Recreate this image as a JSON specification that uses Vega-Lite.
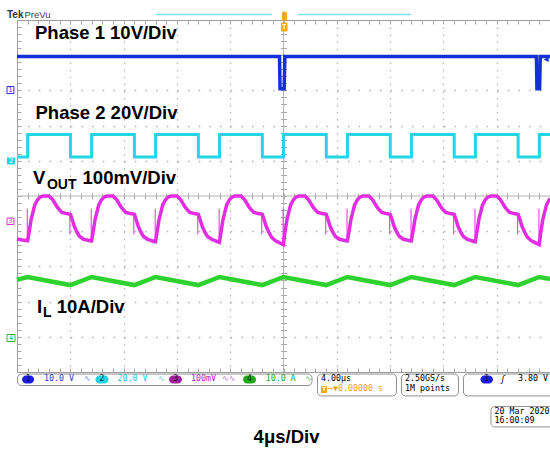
{
  "$schema": "https://vega.github.io/schema/vega-lite/v6.json",
  "width": 533,
  "height": 352,
  "autosize": "none",
  "padding": {"left": 17, "top": 20, "right": 0, "bottom": 78},
  "background": "white",
  "data": {"values": [{}]},
  "config": {
    "view": {"stroke": "#9c9c9c", "strokeWidth": 1},
    "axis": {"title": null, "labels": false, "domain": false, "grid": false, "ticks": false, "tickColor": "#a8a8a8", "tickWidth": 1, "gridColor": "#b4b4b4"}
  },
  "resolve": {"axis": {"x": "independent", "y": "independent"}},
  "datasets": {
    "ch1": [{"t":-20,"v":3.96},{"t":-0.3,"v":3.96},{"t":-0.26,"v":3.05},{"t":0.05,"v":3.05},{"t":0.1,"v":3.96},{"t":18.98,"v":3.96},{"t":19.02,"v":3.05},{"t":19.22,"v":3.05},{"t":19.27,"v":3.96},{"t":20,"v":3.96}],
    "ch2": [{"t":-20,"v":1.11},{"t":-19.2,"v":1.11},{"t":-19.2,"v":1.75},{"t":-15.99,"v":1.75},{"t":-15.99,"v":1.11},{"t":-14.4,"v":1.11},{"t":-14.4,"v":1.75},{"t":-11.19,"v":1.75},{"t":-11.19,"v":1.11},{"t":-9.6,"v":1.11},{"t":-9.6,"v":1.75},{"t":-6.39,"v":1.75},{"t":-6.39,"v":1.11},{"t":-4.8,"v":1.11},{"t":-4.8,"v":1.75},{"t":-1.59,"v":1.75},{"t":-1.59,"v":1.11},{"t":0,"v":1.11},{"t":0,"v":1.75},{"t":3.21,"v":1.75},{"t":3.21,"v":1.11},{"t":4.8,"v":1.11},{"t":4.8,"v":1.75},{"t":8.01,"v":1.75},{"t":8.01,"v":1.11},{"t":9.6,"v":1.11},{"t":9.6,"v":1.75},{"t":12.81,"v":1.75},{"t":12.81,"v":1.11},{"t":14.4,"v":1.11},{"t":14.4,"v":1.75},{"t":17.61,"v":1.75},{"t":17.61,"v":1.11},{"t":19.2,"v":1.11},{"t":19.2,"v":1.75},{"t":20,"v":1.75}],
    "ch3": [{"t":-20,"v":-1.22},{"t":-19.6,"v":-1.25},
      {"t":-19.2,"v":-1.27},{"t":-19.1,"v":-1.05},{"t":-18.94,"v":-0.67},{"t":-18.67,"v":-0.26},{"t":-18.45,"v":-0.1},{"t":-18.25,"v":-0.03},{"t":-18.05,"v":0},{"t":-17.6,"v":0},{"t":-17.35,"v":-0.09},{"t":-16.95,"v":-0.33},{"t":-16.65,"v":-0.46},{"t":-16.3,"v":-0.5},{"t":-15.99,"v":-0.52},{"t":-15.9,"v":-0.62},{"t":-15.7,"v":-0.86},{"t":-15.5,"v":-1.03},{"t":-15.3,"v":-1.15},{"t":-15.0,"v":-1.23},{"t":-14.41,"v":-1.28},
      {"t":-14.4,"v":-1.27},{"t":-14.3,"v":-1.05},{"t":-14.14,"v":-0.67},{"t":-13.87,"v":-0.26},{"t":-13.65,"v":-0.1},{"t":-13.45,"v":-0.03},{"t":-13.25,"v":0},{"t":-12.8,"v":0},{"t":-12.55,"v":-0.09},{"t":-12.15,"v":-0.33},{"t":-11.85,"v":-0.46},{"t":-11.5,"v":-0.5},{"t":-11.19,"v":-0.52},{"t":-11.1,"v":-0.62},{"t":-10.9,"v":-0.86},{"t":-10.7,"v":-1.03},{"t":-10.5,"v":-1.15},{"t":-10.2,"v":-1.23},{"t":-9.61,"v":-1.3},
      {"t":-9.6,"v":-1.29},{"t":-9.5,"v":-1.05},{"t":-9.34,"v":-0.67},{"t":-9.07,"v":-0.26},{"t":-8.85,"v":-0.1},{"t":-8.65,"v":-0.03},{"t":-8.45,"v":0},{"t":-8.0,"v":0},{"t":-7.75,"v":-0.09},{"t":-7.35,"v":-0.33},{"t":-7.05,"v":-0.46},{"t":-6.7,"v":-0.5},{"t":-6.39,"v":-0.52},{"t":-6.3,"v":-0.62},{"t":-6.1,"v":-0.86},{"t":-5.9,"v":-1.03},{"t":-5.7,"v":-1.15},{"t":-5.4,"v":-1.23},{"t":-4.81,"v":-1.32},
      {"t":-4.8,"v":-1.31},{"t":-4.7,"v":-1.05},{"t":-4.54,"v":-0.67},{"t":-4.27,"v":-0.26},{"t":-4.05,"v":-0.1},{"t":-3.85,"v":-0.03},{"t":-3.65,"v":0},{"t":-3.2,"v":0},{"t":-2.95,"v":-0.09},{"t":-2.55,"v":-0.33},{"t":-2.25,"v":-0.46},{"t":-1.9,"v":-0.5},{"t":-1.59,"v":-0.52},{"t":-1.5,"v":-0.62},{"t":-1.3,"v":-0.86},{"t":-1.1,"v":-1.03},{"t":-0.9,"v":-1.17},{"t":-0.6,"v":-1.27},{"t":-0.01,"v":-1.38},
      {"t":0,"v":-1.36},{"t":0.1,"v":-1.05},{"t":0.26,"v":-0.67},{"t":0.53,"v":-0.26},{"t":0.75,"v":-0.1},{"t":0.95,"v":-0.03},{"t":1.15,"v":0},{"t":1.6,"v":0},{"t":1.85,"v":-0.09},{"t":2.25,"v":-0.33},{"t":2.55,"v":-0.46},{"t":2.9,"v":-0.5},{"t":3.21,"v":-0.52},{"t":3.3,"v":-0.62},{"t":3.5,"v":-0.86},{"t":3.7,"v":-1.03},{"t":3.9,"v":-1.15},{"t":4.2,"v":-1.23},{"t":4.79,"v":-1.28},
      {"t":4.8,"v":-1.27},{"t":4.9,"v":-1.05},{"t":5.06,"v":-0.67},{"t":5.33,"v":-0.26},{"t":5.55,"v":-0.1},{"t":5.75,"v":-0.03},{"t":5.95,"v":0},{"t":6.4,"v":0},{"t":6.65,"v":-0.09},{"t":7.05,"v":-0.33},{"t":7.35,"v":-0.46},{"t":7.7,"v":-0.5},{"t":8.01,"v":-0.52},{"t":8.1,"v":-0.62},{"t":8.3,"v":-0.86},{"t":8.5,"v":-1.03},{"t":8.7,"v":-1.15},{"t":9.0,"v":-1.23},{"t":9.59,"v":-1.28},
      {"t":9.6,"v":-1.27},{"t":9.7,"v":-1.05},{"t":9.86,"v":-0.67},{"t":10.13,"v":-0.26},{"t":10.35,"v":-0.1},{"t":10.55,"v":-0.03},{"t":10.75,"v":0},{"t":11.2,"v":0},{"t":11.45,"v":-0.09},{"t":11.85,"v":-0.33},{"t":12.15,"v":-0.46},{"t":12.5,"v":-0.5},{"t":12.81,"v":-0.52},{"t":12.9,"v":-0.62},{"t":13.1,"v":-0.86},{"t":13.3,"v":-1.03},{"t":13.5,"v":-1.15},{"t":13.8,"v":-1.23},{"t":14.39,"v":-1.3},
      {"t":14.4,"v":-1.29},{"t":14.5,"v":-1.05},{"t":14.66,"v":-0.67},{"t":14.93,"v":-0.26},{"t":15.15,"v":-0.1},{"t":15.35,"v":-0.03},{"t":15.55,"v":0},{"t":16.0,"v":0},{"t":16.25,"v":-0.09},{"t":16.65,"v":-0.33},{"t":16.95,"v":-0.46},{"t":17.3,"v":-0.5},{"t":17.61,"v":-0.52},{"t":17.7,"v":-0.62},{"t":17.9,"v":-0.86},{"t":18.1,"v":-1.03},{"t":18.3,"v":-1.17},{"t":18.6,"v":-1.27},{"t":19.19,"v":-1.38},
      {"t":19.2,"v":-1.36},{"t":19.3,"v":-1.05},{"t":19.46,"v":-0.67},{"t":19.73,"v":-0.26},{"t":19.95,"v":-0.1},{"t":20,"v":-0.08}],
    "ch4": [{"t":-20,"v":-2.38},{"t":-19.2,"v":-2.3},{"t":-15.99,"v":-2.53},{"t":-14.4,"v":-2.3},{"t":-11.19,"v":-2.53},{"t":-9.6,"v":-2.3},{"t":-6.39,"v":-2.53},{"t":-4.8,"v":-2.3},{"t":-1.59,"v":-2.53},{"t":0,"v":-2.3},{"t":3.21,"v":-2.53},{"t":4.8,"v":-2.3},{"t":8.01,"v":-2.53},{"t":9.6,"v":-2.3},{"t":12.81,"v":-2.53},{"t":14.4,"v":-2.3},{"t":17.61,"v":-2.53},{"t":19.2,"v":-2.3},{"t":20,"v":-2.36}],
    "spikes": [{"t":-19.23,"lo":-1.27,"hi":-0.36},{"t":-14.43,"lo":-1.27,"hi":-0.36},{"t":-9.63,"lo":-1.27,"hi":-0.36},{"t":-4.83,"lo":-1.3,"hi":-0.36},{"t":-0.03,"lo":-1.36,"hi":-0.36},{"t":4.77,"lo":-1.27,"hi":-0.36},{"t":9.57,"lo":-1.27,"hi":-0.36},{"t":14.37,"lo":-1.29,"hi":-0.36},{"t":19.17,"lo":-1.36,"hi":-0.36},
      {"t":-16.03,"lo":-1.09,"hi":-0.5},{"t":-11.23,"lo":-1.09,"hi":-0.5},{"t":-6.43,"lo":-1.09,"hi":-0.5},{"t":-1.63,"lo":-1.09,"hi":-0.5},{"t":3.17,"lo":-1.09,"hi":-0.5},{"t":7.97,"lo":-1.09,"hi":-0.5},{"t":12.77,"lo":-1.09,"hi":-0.5},{"t":17.57,"lo":-1.09,"hi":-0.5}]
  },
  "layer": [
    {"mark": {"type": "rule", "color": "#b4b4b4", "strokeWidth": 1}, "encoding": {"x": {"datum": 0, "type": "quantitative", "axis": null}}},
    {"mark": {"type": "rule", "color": "#b4b4b4", "strokeWidth": 1}, "encoding": {"y": {"datum": 0, "type": "quantitative", "axis": null}}},
    {
      "data": {"name": "ch2"},
      "mark": {"type": "line", "color": "#22d6e2", "strokeWidth": 3},
      "encoding": {
        "x": {"field": "t", "type": "quantitative", "scale": {"domain": [-20, 20], "nice": false, "zero": false},
          "axis": {"orient": "bottom", "offset": -179, "ticks": true, "tickSize": 6, "values": [-19.2,-18.4,-17.6,-16.8,-16,-15.2,-14.4,-13.6,-12.8,-12,-11.2,-10.4,-9.6,-8.8,-8,-7.2,-6.4,-5.6,-4.8,-4,-3.2,-2.4,-1.6,-0.8,0,0.8,1.6,2.4,3.2,4,4.8,5.6,6.4,7.2,8,8.8,9.6,10.4,11.2,12,12.8,13.6,14.4,15.2,16,16.8,17.6,18.4,19.2]}},
        "y": {"field": "v", "type": "quantitative", "scale": {"domain": [-5, 5], "nice": false, "zero": false},
          "axis": {"orient": "left", "offset": -269.5, "ticks": true, "tickSize": 6, "values": [-4.8,-4.6,-4.4,-4.2,-4,-3.8,-3.6,-3.4,-3.2,-3,-2.8,-2.6,-2.4,-2.2,-2,-1.8,-1.6,-1.4,-1.2,-1,-0.8,-0.6,-0.4,-0.2,0,0.2,0.4,0.6,0.8,1,1.2,1.4,1.6,1.8,2,2.2,2.4,2.6,2.8,3,3.2,3.4,3.6,3.8,4,4.2,4.4,4.6,4.8]}},
        "order": {"value": null}
      }
    },
    {
      "data": {"name": "ch1"},
      "mark": {"type": "line", "color": "#1430d8", "strokeWidth": 3.5},
      "encoding": {
        "x": {"field": "t", "type": "quantitative", "scale": {"domain": [-20, 20], "nice": false, "zero": false},
          "axis": {"orient": "bottom", "grid": true, "gridDash": [1.5, 5.54], "gridWidth": 1.3, "values": [-16,-12,-8,-4,4,8,12,16]}},
        "y": {"field": "v", "type": "quantitative", "scale": {"domain": [-5, 5], "nice": false, "zero": false},
          "axis": {"orient": "left", "grid": true, "gridDash": [1.5, 9.16], "gridWidth": 1.3, "values": [-4,-3,-2,-1,1,2,3,4]}},
        "order": {"value": null}
      }
    },
    {
      "data": {"name": "ch3"},
      "mark": {"type": "line", "color": "#e22ee2", "strokeWidth": 3.5},
      "encoding": {
        "x": {"field": "t", "type": "quantitative", "scale": {"domain": [-20, 20], "nice": false, "zero": false},
          "axis": {"orient": "top", "offset": -4, "ticks": true, "tickSize": 4, "values": [-19.2,-18.4,-17.6,-16.8,-16,-15.2,-14.4,-13.6,-12.8,-12,-11.2,-10.4,-9.6,-8.8,-8,-7.2,-6.4,-5.6,-4.8,-4,-3.2,-2.4,-1.6,-0.8,0,0.8,1.6,2.4,3.2,4,4.8,5.6,6.4,7.2,8,8.8,9.6,10.4,11.2,12,12.8,13.6,14.4,15.2,16,16.8,17.6,18.4,19.2]}},
        "y": {"field": "v", "type": "quantitative", "scale": {"domain": [-5, 5], "nice": false, "zero": false},
          "axis": {"orient": "left", "offset": -4, "ticks": true, "tickSize": 4, "values": [-4.8,-4.6,-4.4,-4.2,-4,-3.8,-3.6,-3.4,-3.2,-3,-2.8,-2.6,-2.4,-2.2,-2,-1.8,-1.6,-1.4,-1.2,-1,-0.8,-0.6,-0.4,-0.2,0,0.2,0.4,0.6,0.8,1,1.2,1.4,1.6,1.8,2,2.2,2.4,2.6,2.8,3,3.2,3.4,3.6,3.8,4,4.2,4.4,4.6,4.8]}}
      }
    },
    {
      "data": {"name": "spikes"},
      "mark": {"type": "rule", "color": "#e22ee2", "strokeWidth": 1},
      "encoding": {
        "x": {"field": "t", "type": "quantitative", "axis": null},
        "y": {"field": "lo", "type": "quantitative", "axis": null},
        "y2": {"field": "hi"}
      }
    },
    {
      "data": {"name": "ch4"},
      "mark": {"type": "line", "color": "#2ed22e", "strokeWidth": 4.5},
      "encoding": {
        "x": {"field": "t", "type": "quantitative", "scale": {"domain": [-20, 20], "nice": false, "zero": false},
          "axis": {"orient": "bottom", "offset": -4, "ticks": true, "tickSize": 4, "values": [-19.2,-18.4,-17.6,-16.8,-16,-15.2,-14.4,-13.6,-12.8,-12,-11.2,-10.4,-9.6,-8.8,-8,-7.2,-6.4,-5.6,-4.8,-4,-3.2,-2.4,-1.6,-0.8,0,0.8,1.6,2.4,3.2,4,4.8,5.6,6.4,7.2,8,8.8,9.6,10.4,11.2,12,12.8,13.6,14.4,15.2,16,16.8,17.6,18.4,19.2]}},
        "y": {"field": "v", "type": "quantitative", "scale": {"domain": [-5, 5], "nice": false, "zero": false}, "axis": null}
      }
    },
    {"mark": {"type": "text", "text": "Phase 1 10V/Div", "align": "left", "baseline": "alphabetic", "font": "Liberation Sans", "fontWeight": "bold", "fontSize": 18.5, "color": "#000000"},
     "encoding": {"x": {"datum": -18.65, "type": "quantitative", "axis": null}, "y": {"datum": 4.46, "type": "quantitative", "axis": null}}},
    {"mark": {"type": "text", "text": "Phase 2 20V/Div", "align": "left", "baseline": "alphabetic", "font": "Liberation Sans", "fontWeight": "bold", "fontSize": 18.5, "color": "#000000"},
     "encoding": {"x": {"datum": -18.61, "type": "quantitative", "axis": null}, "y": {"datum": 2.19, "type": "quantitative", "axis": null}}},
    {"mark": {"type": "text", "text": "V", "align": "left", "baseline": "alphabetic", "font": "Liberation Sans", "fontWeight": "bold", "fontSize": 18.5, "color": "#000000"},
     "encoding": {"x": {"datum": -18.8, "type": "quantitative", "axis": null}, "y": {"datum": 0.327, "type": "quantitative", "axis": null}}},
    {"mark": {"type": "text", "text": "OUT", "align": "left", "baseline": "alphabetic", "font": "Liberation Sans", "fontWeight": "bold", "fontSize": 14, "color": "#000000"},
     "encoding": {"x": {"datum": -17.75, "type": "quantitative", "axis": null}, "y": {"datum": 0.185, "type": "quantitative", "axis": null}}},
    {"mark": {"type": "text", "text": "100mV/Div", "align": "left", "baseline": "alphabetic", "font": "Liberation Sans", "fontWeight": "bold", "fontSize": 18.5, "color": "#000000"},
     "encoding": {"x": {"datum": -15.08, "type": "quantitative", "axis": null}, "y": {"datum": 0.327, "type": "quantitative", "axis": null}}},
    {"mark": {"type": "text", "text": "I", "align": "left", "baseline": "alphabetic", "font": "Liberation Sans", "fontWeight": "bold", "fontSize": 18.5, "color": "#000000"},
     "encoding": {"x": {"datum": -18.5, "type": "quantitative", "axis": null}, "y": {"datum": -3.318, "type": "quantitative", "axis": null}}},
    {"mark": {"type": "text", "text": "L", "align": "left", "baseline": "alphabetic", "font": "Liberation Sans", "fontWeight": "bold", "fontSize": 14, "color": "#000000"},
     "encoding": {"x": {"datum": -18.05, "type": "quantitative", "axis": null}, "y": {"datum": -3.45, "type": "quantitative", "axis": null}}},
    {"mark": {"type": "text", "text": "10A/Div", "align": "left", "baseline": "alphabetic", "font": "Liberation Sans", "fontWeight": "bold", "fontSize": 18.5, "color": "#000000"},
     "encoding": {"x": {"datum": -17.02, "type": "quantitative", "axis": null}, "y": {"datum": -3.318, "type": "quantitative", "axis": null}}},
    {"mark": {"type": "text", "text": "4μs/Div", "align": "center", "baseline": "alphabetic", "font": "Liberation Sans", "fontWeight": "bold", "fontSize": 18.5, "color": "#000000"},
     "encoding": {"x": {"datum": 0.225, "type": "quantitative", "axis": null}, "y": {"datum": -7.017, "type": "quantitative", "axis": null}}},
    {"mark": {"type": "text", "text": "Tek", "align": "left", "baseline": "alphabetic", "font": "Liberation Sans", "fontWeight": "bold", "fontSize": 10, "color": "#333333"},
     "encoding": {"x": {"datum": -20.75, "type": "quantitative", "axis": null}, "y": {"datum": 5.057, "type": "quantitative", "axis": null}}},
    {"mark": {"type": "text", "text": "PreVu", "align": "left", "baseline": "alphabetic", "font": "Liberation Sans", "fontSize": 9.5, "color": "#444444"},
     "encoding": {"x": {"datum": -19.44, "type": "quantitative", "axis": null}, "y": {"datum": 5.057, "type": "quantitative", "axis": null}}},
    {"mark": {"type": "rule", "color": "#78e2ea", "strokeWidth": 1.5},
     "encoding": {"x": {"datum": -9.57, "type": "quantitative", "axis": null}, "x2": {"datum": -0.86}, "y": {"datum": 5.156, "type": "quantitative", "axis": null}}},
    {"mark": {"type": "rule", "color": "#78e2ea", "strokeWidth": 1.5},
     "encoding": {"x": {"datum": 1.09, "type": "quantitative", "axis": null}, "x2": {"datum": 9.57}, "y": {"datum": 5.156, "type": "quantitative", "axis": null}}},
    {"mark": {"type": "rect", "fill": "#f5a623", "cornerRadius": 2},
     "encoding": {"x": {"datum": -0.11, "type": "quantitative", "axis": null}, "x2": {"datum": 0.26}, "y": {"datum": 5.24, "type": "quantitative", "axis": null}, "y2": {"datum": 4.97}}},
    {"mark": {"type": "rect", "fill": "#f5a623", "cornerRadius": 1},
     "encoding": {"x": {"datum": -0.19, "type": "quantitative", "axis": null}, "x2": {"datum": 0.3}, "y": {"datum": 4.93, "type": "quantitative", "axis": null}, "y2": {"datum": 4.67}}},
    {"mark": {"type": "text", "text": "T", "align": "center", "baseline": "middle", "font": "Liberation Sans", "fontWeight": "bold", "fontSize": 7, "color": "#ffffff"},
     "encoding": {"x": {"datum": 0.05, "type": "quantitative", "axis": null}, "y": {"datum": 4.8, "type": "quantitative", "axis": null}}},
    {"mark": {"type": "text", "text": "◂", "align": "center", "baseline": "middle", "font": "DejaVu Sans", "fontSize": 10, "color": "#1430d8"},
     "encoding": {"x": {"datum": 19.7, "type": "quantitative", "axis": null}, "y": {"datum": 3.88, "type": "quantitative", "axis": null}}},
    {"mark": {"type": "rect", "fill": "white", "stroke": "#3030e0", "strokeWidth": 1},
     "encoding": {"x": {"datum": -20.75, "type": "quantitative", "axis": null}, "x2": {"datum": -20.23}, "y": {"datum": 3.11, "type": "quantitative", "axis": null}, "y2": {"datum": 2.91}}},
    {"mark": {"type": "text", "text": "1", "align": "center", "baseline": "middle", "font": "DejaVu Sans", "fontSize": 6.5, "color": "#3030e0"},
     "encoding": {"x": {"datum": -20.49, "type": "quantitative", "axis": null}, "y": {"datum": 3.01, "type": "quantitative", "axis": null}}},
    {"mark": {"type": "rect", "fill": "#22d6e2", "strokeWidth": 0},
     "encoding": {"x": {"datum": -20.75, "type": "quantitative", "axis": null}, "x2": {"datum": -20.15}, "y": {"datum": 1.094, "type": "quantitative", "axis": null}, "y2": {"datum": 0.895}}},
    {"mark": {"type": "text", "text": "2", "align": "center", "baseline": "middle", "font": "DejaVu Sans", "fontSize": 6.5, "color": "#ffffff"},
     "encoding": {"x": {"datum": -20.45, "type": "quantitative", "axis": null}, "y": {"datum": 0.994, "type": "quantitative", "axis": null}}},
    {"mark": {"type": "rect", "fill": "white", "stroke": "#e22ee2", "strokeWidth": 1},
     "encoding": {"x": {"datum": -20.75, "type": "quantitative", "axis": null}, "x2": {"datum": -20.23}, "y": {"datum": -0.625, "type": "quantitative", "axis": null}, "y2": {"datum": -0.81}}},
    {"mark": {"type": "text", "text": "3", "align": "center", "baseline": "middle", "font": "DejaVu Sans", "fontSize": 6.5, "color": "#e22ee2"},
     "encoding": {"x": {"datum": -20.49, "type": "quantitative", "axis": null}, "y": {"datum": -0.716, "type": "quantitative", "axis": null}}},
    {"mark": {"type": "rect", "fill": "white", "stroke": "#2eb82e", "strokeWidth": 1},
     "encoding": {"x": {"datum": -20.75, "type": "quantitative", "axis": null}, "x2": {"datum": -20.15}, "y": {"datum": -3.935, "type": "quantitative", "axis": null}, "y2": {"datum": -4.134}}},
    {"mark": {"type": "text", "text": "4", "align": "center", "baseline": "middle", "font": "DejaVu Sans", "fontSize": 6.5, "color": "#2eb82e"},
     "encoding": {"x": {"datum": -20.45, "type": "quantitative", "axis": null}, "y": {"datum": -4.034, "type": "quantitative", "axis": null}}},
    {"mark": {"type": "rect", "fill": "white", "stroke": "#909090", "strokeWidth": 1, "cornerRadius": 4},
     "encoding": {"x": {"datum": -19.96, "type": "quantitative", "axis": null}, "x2": {"datum": 2.14}, "y": {"datum": -5.057, "type": "quantitative", "axis": null}, "y2": {"datum": -5.384}}},
    {"mark": {"type": "rect", "fill": "white", "stroke": "#909090", "strokeWidth": 1, "cornerRadius": 4},
     "encoding": {"x": {"datum": 2.55, "type": "quantitative", "axis": null}, "x2": {"datum": 8.48}, "y": {"datum": -5.057, "type": "quantitative", "axis": null}, "y2": {"datum": -5.68}}},
    {"mark": {"type": "rect", "fill": "white", "stroke": "#909090", "strokeWidth": 1, "cornerRadius": 4},
     "encoding": {"x": {"datum": 8.86, "type": "quantitative", "axis": null}, "x2": {"datum": 13.13}, "y": {"datum": -5.057, "type": "quantitative", "axis": null}, "y2": {"datum": -5.68}}},
    {"mark": {"type": "rect", "fill": "white", "stroke": "#909090", "strokeWidth": 1, "cornerRadius": 4},
     "encoding": {"x": {"datum": 13.51, "type": "quantitative", "axis": null}, "x2": {"datum": 20.45}, "y": {"datum": -5.057, "type": "quantitative", "axis": null}, "y2": {"datum": -5.68}}},
    {"mark": {"type": "rect", "fill": "white", "stroke": "#909090", "strokeWidth": 1, "cornerRadius": 4},
     "encoding": {"x": {"datum": 15.57, "type": "quantitative", "axis": null}, "x2": {"datum": 20.45}, "y": {"datum": -5.98, "type": "quantitative", "axis": null}, "y2": {"datum": -6.56}}},
    {"mark": {"type": "rect", "fill": "#1c1ce0", "cornerRadius": 4},
     "encoding": {"x": {"datum": -19.62, "type": "quantitative", "axis": null}, "x2": {"datum": -18.72}, "y": {"datum": -5.1, "type": "quantitative", "axis": null}, "y2": {"datum": -5.33}}},
    {"mark": {"type": "rect", "fill": "#22d0e0", "cornerRadius": 4},
     "encoding": {"x": {"datum": -14.11, "type": "quantitative", "axis": null}, "x2": {"datum": -13.13}, "y": {"datum": -5.1, "type": "quantitative", "axis": null}, "y2": {"datum": -5.33}}},
    {"mark": {"type": "rect", "fill": "#a020a0", "cornerRadius": 4},
     "encoding": {"x": {"datum": -8.59, "type": "quantitative", "axis": null}, "x2": {"datum": -7.62}, "y": {"datum": -5.1, "type": "quantitative", "axis": null}, "y2": {"datum": -5.33}}},
    {"mark": {"type": "rect", "fill": "#20a820", "cornerRadius": 4},
     "encoding": {"x": {"datum": -3.04, "type": "quantitative", "axis": null}, "x2": {"datum": -2.06}, "y": {"datum": -5.1, "type": "quantitative", "axis": null}, "y2": {"datum": -5.33}}},
    {"mark": {"type": "rect", "fill": "#1c1ce0", "cornerRadius": 4},
     "encoding": {"x": {"datum": 14.78, "type": "quantitative", "axis": null}, "x2": {"datum": 15.72}, "y": {"datum": -5.1, "type": "quantitative", "axis": null}, "y2": {"datum": -5.33}}},
    {"mark": {"type": "text", "text": "1", "align": "center", "baseline": "middle", "font": "DejaVu Sans Mono", "fontSize": 8, "color": "#0a0a40"},
     "encoding": {"x": {"datum": -19.17, "type": "quantitative", "axis": null}, "y": {"datum": -5.213, "type": "quantitative", "axis": null}}},
    {"mark": {"type": "text", "text": "2", "align": "center", "baseline": "middle", "font": "DejaVu Sans Mono", "fontSize": 8, "color": "#0a3040"},
     "encoding": {"x": {"datum": -13.62, "type": "quantitative", "axis": null}, "y": {"datum": -5.213, "type": "quantitative", "axis": null}}},
    {"mark": {"type": "text", "text": "3", "align": "center", "baseline": "middle", "font": "DejaVu Sans Mono", "fontSize": 8, "color": "#300a30"},
     "encoding": {"x": {"datum": -8.1, "type": "quantitative", "axis": null}, "y": {"datum": -5.213, "type": "quantitative", "axis": null}}},
    {"mark": {"type": "text", "text": "4", "align": "center", "baseline": "middle", "font": "DejaVu Sans Mono", "fontSize": 8, "color": "#0a300a"},
     "encoding": {"x": {"datum": -2.55, "type": "quantitative", "axis": null}, "y": {"datum": -5.213, "type": "quantitative", "axis": null}}},
    {"mark": {"type": "text", "text": "1", "align": "center", "baseline": "middle", "font": "DejaVu Sans Mono", "fontSize": 8, "color": "#0a0a40"},
     "encoding": {"x": {"datum": 15.25, "type": "quantitative", "axis": null}, "y": {"datum": -5.213, "type": "quantitative", "axis": null}}},
    {"mark": {"type": "text", "text": "10.0 V", "align": "left", "baseline": "middle", "font": "DejaVu Sans Mono", "fontSize": 8.3, "color": "#3434e8"},
     "encoding": {"x": {"datum": -17.98, "type": "quantitative", "axis": null}, "y": {"datum": -5.213, "type": "quantitative", "axis": null}}},
    {"mark": {"type": "text", "text": "∿", "align": "left", "baseline": "middle", "font": "DejaVu Sans", "fontSize": 8, "color": "#6a80f0"},
     "encoding": {"x": {"datum": -14.97, "type": "quantitative", "axis": null}, "y": {"datum": -5.213, "type": "quantitative", "axis": null}}},
    {"mark": {"type": "text", "text": "20.0 V", "align": "left", "baseline": "middle", "font": "DejaVu Sans Mono", "fontSize": 8.3, "color": "#22c8e0"},
     "encoding": {"x": {"datum": -12.46, "type": "quantitative", "axis": null}, "y": {"datum": -5.213, "type": "quantitative", "axis": null}}},
    {"mark": {"type": "text", "text": "∿", "align": "left", "baseline": "middle", "font": "DejaVu Sans", "fontSize": 8, "color": "#50c8e0"},
     "encoding": {"x": {"datum": -9.42, "type": "quantitative", "axis": null}, "y": {"datum": -5.213, "type": "quantitative", "axis": null}}},
    {"mark": {"type": "text", "text": "100mV", "align": "left", "baseline": "middle", "font": "DejaVu Sans Mono", "fontSize": 8.3, "color": "#b024c0"},
     "encoding": {"x": {"datum": -6.94, "type": "quantitative", "axis": null}, "y": {"datum": -5.213, "type": "quantitative", "axis": null}}},
    {"mark": {"type": "text", "text": "∿∿", "align": "left", "baseline": "middle", "font": "DejaVu Sans", "fontSize": 8, "color": "#c060d0"},
     "encoding": {"x": {"datum": -4.62, "type": "quantitative", "axis": null}, "y": {"datum": -5.213, "type": "quantitative", "axis": null}}},
    {"mark": {"type": "text", "text": "10.0 A", "align": "left", "baseline": "middle", "font": "DejaVu Sans Mono", "fontSize": 8.3, "color": "#20a820"},
     "encoding": {"x": {"datum": -1.34, "type": "quantitative", "axis": null}, "y": {"datum": -5.213, "type": "quantitative", "axis": null}}},
    {"mark": {"type": "text", "text": "∿", "align": "left", "baseline": "middle", "font": "DejaVu Sans", "fontSize": 8, "color": "#60c060"},
     "encoding": {"x": {"datum": 1.61, "type": "quantitative", "axis": null}, "y": {"datum": -5.213, "type": "quantitative", "axis": null}}},
    {"mark": {"type": "text", "text": "4.00μs", "align": "left", "baseline": "middle", "font": "DejaVu Sans Mono", "fontSize": 8.3, "color": "#000000"},
     "encoding": {"x": {"datum": 2.81, "type": "quantitative", "axis": null}, "y": {"datum": -5.213, "type": "quantitative", "axis": null}}},
    {"mark": {"type": "rect", "fill": "#f0a020", "cornerRadius": 1},
     "encoding": {"x": {"datum": 2.81, "type": "quantitative", "axis": null}, "x2": {"datum": 3.26}, "y": {"datum": -5.398, "type": "quantitative", "axis": null}, "y2": {"datum": -5.597}}},
    {"mark": {"type": "text", "text": "T", "align": "center", "baseline": "middle", "font": "DejaVu Sans", "fontWeight": "bold", "fontSize": 6, "color": "#ffffff"},
     "encoding": {"x": {"datum": 3.035, "type": "quantitative", "axis": null}, "y": {"datum": -5.497, "type": "quantitative", "axis": null}}},
    {"mark": {"type": "text", "text": "→▼0.00000 s", "align": "left", "baseline": "middle", "font": "DejaVu Sans Mono", "fontSize": 8.3, "color": "#f0a020"},
     "encoding": {"x": {"datum": 3.34, "type": "quantitative", "axis": null}, "y": {"datum": -5.497, "type": "quantitative", "axis": null}}},
    {"mark": {"type": "text", "text": "2.50GS/s", "align": "left", "baseline": "middle", "font": "DejaVu Sans Mono", "fontSize": 8.3, "color": "#000000"},
     "encoding": {"x": {"datum": 9.12, "type": "quantitative", "axis": null}, "y": {"datum": -5.213, "type": "quantitative", "axis": null}}},
    {"mark": {"type": "text", "text": "1M points", "align": "left", "baseline": "middle", "font": "DejaVu Sans Mono", "fontSize": 8.3, "color": "#000000"},
     "encoding": {"x": {"datum": 9.12, "type": "quantitative", "axis": null}, "y": {"datum": -5.497, "type": "quantitative", "axis": null}}},
    {"mark": {"type": "text", "text": "ʃ", "align": "center", "baseline": "middle", "font": "DejaVu Sans", "fontStyle": "italic", "fontSize": 9, "color": "#000000"},
     "encoding": {"x": {"datum": 16.47, "type": "quantitative", "axis": null}, "y": {"datum": -5.213, "type": "quantitative", "axis": null}}},
    {"mark": {"type": "text", "text": "3.80 V", "align": "left", "baseline": "middle", "font": "DejaVu Sans Mono", "fontSize": 8.3, "color": "#000000"},
     "encoding": {"x": {"datum": 17.6, "type": "quantitative", "axis": null}, "y": {"datum": -5.213, "type": "quantitative", "axis": null}}},
    {"mark": {"type": "text", "text": "20 Mar 2020", "align": "left", "baseline": "middle", "font": "DejaVu Sans Mono", "fontSize": 8.3, "color": "#000000"},
     "encoding": {"x": {"datum": 15.83, "type": "quantitative", "axis": null}, "y": {"datum": -6.142, "type": "quantitative", "axis": null}}},
    {"mark": {"type": "text", "text": "16:00:09", "align": "left", "baseline": "middle", "font": "DejaVu Sans Mono", "fontSize": 8.3, "color": "#000000"},
     "encoding": {"x": {"datum": 15.83, "type": "quantitative", "axis": null}, "y": {"datum": -6.398, "type": "quantitative", "axis": null}}}
  ]
}
